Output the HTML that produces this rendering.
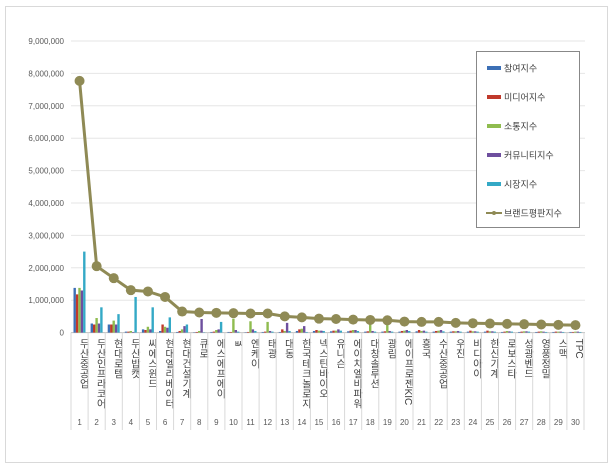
<!DOCTYPE html>
<html><head><meta charset="utf-8"><style>
body{margin:0;background:#fff;font-family:"Liberation Sans","Noto Sans CJK KR",sans-serif}
</style></head><body>
<svg id="c" width="615" height="469" xmlns="http://www.w3.org/2000/svg" style="font-family:'Liberation Sans','Noto Sans CJK KR',sans-serif">
<rect x="5.5" y="6.5" width="602" height="456" fill="#fff" stroke="#d9d9d9"/>
<g id="grid"></g><g id="bars"></g><g id="xl"></g><g id="ln"></g>
<g>
<rect x="476.5" y="51.5" width="103" height="176" fill="#fff" stroke="#888"/>
<g id="leg"></g></g>
</svg>
<script>
const categories=["두산중공업","두산인프라코어","현대로템","두산밥캣","씨에스윈드","현대엘리베이터","현대건설기계","큐로","에스에프에이","ㅄ","엔케이","태광","대동","한국테크놀로지","넥스틴바이오","유니슨","에이치엘비파워","대창솔루션","광림","에이프로젠KIC","흥국","수산중공업","우진","비디아이","한신기계","로보스타","성광벤드","영풍정밀","스맥","TPC"];
const participation=[1380000,280000,250000,30000,100000,50000,20000,10000,20000,20000,10000,20000,20000,50000,50000,40000,40000,30000,30000,30000,40000,30000,30000,30000,30000,20000,20000,20000,20000,20000];
const media=[1180000,250000,250000,30000,80000,250000,50000,20000,30000,20000,20000,30000,100000,100000,80000,60000,60000,40000,40000,50000,80000,50000,40000,60000,60000,30000,30000,30000,30000,20000];
const communication=[1380000,450000,370000,50000,180000,180000,100000,50000,80000,430000,350000,330000,50000,120000,60000,60000,80000,300000,300000,60000,50000,60000,40000,40000,40000,50000,40000,40000,30000,30000];
const community=[1300000,280000,250000,20000,100000,150000,200000,420000,100000,80000,100000,50000,300000,200000,60000,100000,80000,50000,50000,80000,60000,80000,50000,40000,40000,40000,40000,30000,30000,30000];
const market=[2500000,780000,570000,1100000,780000,470000,250000,10000,330000,30000,50000,30000,50000,20000,50000,60000,50000,30000,30000,50000,30000,40000,30000,30000,30000,30000,30000,20000,20000,20000];
const brand=[7770000,2050000,1680000,1310000,1270000,1100000,650000,620000,610000,600000,590000,590000,500000,470000,430000,420000,400000,390000,380000,340000,330000,330000,300000,290000,280000,270000,260000,250000,240000,230000];
const yTicks=[0,1000000,2000000,3000000,4000000,5000000,6000000,7000000,8000000,9000000];
const seriesNames=["참여지수","미디어지수","소통지수","커뮤니티지수","시장지수","브랜드평판지수"];
const colors=["#3c6fb5","#c0392b","#8fbc4f","#6e4f9e","#34a9c6","#8f8a55"];
const NS="http://www.w3.org/2000/svg";
const x0=71,cw=17.1,y0=332.6,ppm=32.4/1e6;
const Y=v=>y0-v*ppm, X=i=>x0+i*cw;
function mk(t,a,p){const e=document.createElementNS(NS,t);for(const k in a)e.setAttribute(k,a[k]);p.appendChild(e);return e;}
const g=document.getElementById('grid');
yTicks.forEach(v=>{
 const l=mk('line',{x1:x0,x2:585,y1:Y(v),y2:Y(v),stroke:v?'#e6e6e6':'#bfbfbf'},g);
 
 
 const t=mk('text',{x:64,y:Y(v)+3,'text-anchor':'end','font-size':'8',fill:'#595959'},g);
 t.textContent=v.toLocaleString('en-US');
 
 
});
const bg=document.getElementById('bars');
const series=[participation,media,communication,community,market];
const bw=2.4;
categories.forEach((c,i)=>{
 series.forEach((s,k)=>{
  const r=mk('rect',{x:X(i)+2.5+k*bw,y:Y(s[i]),width:bw,height:s[i]*ppm,fill:colors[k]},bg);
  
  
 });
});
const xl=document.getElementById('xl');
categories.forEach((c,i)=>{
 const s=mk('line',{x1:X(i),x2:X(i),y1:y0,y2:430,stroke:'#d9d9d9'},xl);
 
 
 const t=mk('text',{x:X(i)+cw/2+3,y:y0+6,'font-size':'10',fill:'#404040','writing-mode':'tb'},xl);
 t.setAttribute('style','writing-mode:vertical-rl;glyph-orientation-vertical:0');
 t.textContent=c;
 
 
 const n=mk('text',{x:X(i)+cw/2,y:425,'text-anchor':'middle','font-size':'8',fill:'#595959'},xl);
 n.textContent=String(i+1);
 
 
});
mk('line',{x1:X(30),x2:X(30),y1:y0,y2:430,stroke:'#d9d9d9'},xl);
const lg=document.getElementById('ln');
const pts=brand.map((v,i)=>(X(i)+cw/2)+','+Y(v)).join(' ');
const pl=mk('polyline',{points:pts,fill:'none',stroke:colors[5],'stroke-width':'3'},lg);


brand.forEach((v,i)=>{
 const c=mk('circle',{cx:X(i)+cw/2,cy:Y(v),r:5,fill:colors[5]},lg);
 
 
});
const leg=document.getElementById('leg');
seriesNames.forEach((n,k)=>{
 const y=68+k*29;
 if(k<5){mk('rect',{x:487,y:y-2,width:14,height:4,fill:colors[k]},leg);}
 else{mk('line',{x1:486,x2:502,y1:y,y2:y,stroke:colors[5],'stroke-width':2},leg);mk('circle',{cx:494,cy:y,r:2,fill:colors[5]},leg);}
 const t=mk('text',{x:504,y:y+3.5,'font-size':'9',fill:'#404040'},leg);
 t.textContent=n;
 
 
});
</script>
</body></html>
